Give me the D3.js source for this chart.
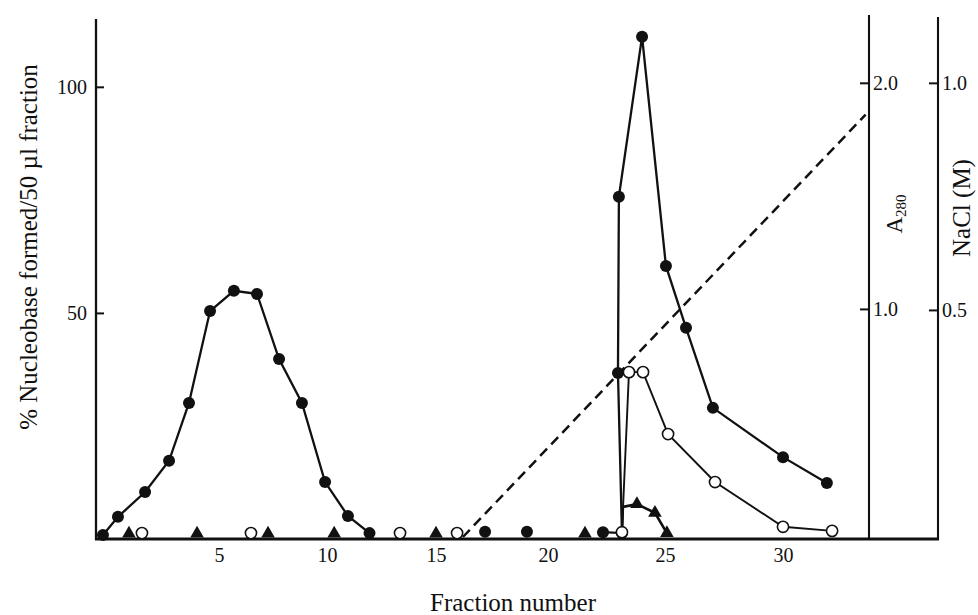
<!DOCTYPE html>
<html>
<head>
<meta charset="utf-8">
<script src="https://cdn.jsdelivr.net/npm/d3@7"></script>
<style>
  body { margin: 0; background: #fff; }
  svg { display: block; }
  text { font-family: "Liberation Serif", "Times New Roman", serif; fill: #111; }
</style>
</head>
<body>
<svg id="chart" width="978" height="615"></svg>
<script>
'use strict';

// tick values
var fractionTicks = [5, 10, 15, 20, 25, 30];
var leftTicks = [50, 100];
var a280Ticks = [1.0, 2.0];
var naclTicks = [0.5, 1.0];

// [fraction, % nucleobase]
var filledPeak1 = [[-0.18, 0.9], [0.49, 4.9], [1.70, 10.4], [2.77, 17.3], [3.66, 30.1], [4.60, 50.4],
  [5.69, 54.9], [6.76, 54.2], [7.78, 39.8], [8.84, 30.1], [9.91, 12.6], [10.96, 5.1], [11.95, 1.3]];
var filledBase = [[17.19, 1.6], [19.06, 1.6]];
var filledPeak2 = [[22.35, 1.5], [23.16, 1.3], [22.99, 36.7], [23.03, 75.7], [24.02, 111.1],
  [25.04, 60.4], [25.89, 46.7], [27.03, 29.0], [30.0, 18.1], [31.86, 12.4]];

var openBase = [[1.56, 1.3], [6.48, 1.3], [13.35, 1.3], [15.94, 1.3]];
var openPeak = [[23.16, 1.5], [23.46, 36.9], [24.06, 36.9], [25.13, 23.2], [27.12, 12.6],
  [30.0, 2.7], [32.08, 1.8]];

var triBase = [[0.98, 1.2], [4.02, 1.2], [7.27, 1.2], [10.33, 1.2], [15.0, 1.2], [21.58, 1.2]];
var triRise = [[23.16, 0.5], [23.2, 7.1]];
var triPeak = [[23.8, 7.7], [24.57, 5.8], [25.08, 1.3]];

// NaCl gradient [fraction, M]
var naclGradient = [[16.2, 0], [33.5, 0.93]];

var svg = d3.select('#chart');
var ink = '#111';

var baseY = 539, leftX = 96, a280X = 869, naclX = 938;

// the printed fraction axis is not quite even, so follow the tick labels
var x = d3.scaleLinear()
  .domain([0, 5, 10, 15, 20, 25, 30, 35])
  .range([107, 219, 327, 436, 548, 665, 783, 901]);
var y = d3.scaleLinear().domain([0, 115]).range([baseY, 19]);
var yA = d3.scaleLinear().domain([0, 2.3]).range([535, 15]);
var yN = d3.scaleLinear().domain([0, 1.145]).range([537, 17]);

// axis lines
svg.append('line')
  .attr('x1', leftX).attr('x2', leftX)
  .attr('y1', y(115)).attr('y2', baseY + 1)
  .attr('stroke', ink).attr('stroke-width', 2.3);
svg.append('line')
  .attr('x1', a280X).attr('x2', a280X)
  .attr('y1', yA(2.3)).attr('y2', baseY + 1)
  .attr('stroke', ink).attr('stroke-width', 2.1);
svg.append('line')
  .attr('x1', naclX).attr('x2', naclX)
  .attr('y1', yN(1.145)).attr('y2', baseY + 1)
  .attr('stroke', ink).attr('stroke-width', 2.1);
svg.append('line')
  .attr('x1', leftX - 1).attr('x2', naclX + 1)
  .attr('y1', baseY).attr('y2', baseY)
  .attr('stroke', ink).attr('stroke-width', 2.8);

function styleAxis(g, size) {
  g.select('.domain').remove();
  g.attr('font-size', size).attr('font-family', null);
  g.selectAll('line').attr('stroke', ink).attr('stroke-width', 2);
  g.selectAll('text').attr('fill', ink);
}

svg.append('g')
  .attr('transform', 'translate(' + leftX + ',0)')
  .call(d3.axisLeft(y).tickValues(leftTicks).tickSize(-8).tickPadding(9))
  .call(styleAxis, 20);

svg.append('g')
  .attr('transform', 'translate(0,' + baseY + ')')
  .call(d3.axisBottom(x).tickValues(fractionTicks).tickSize(0).tickPadding(9))
  .call(styleAxis, 20);

svg.append('g')
  .attr('transform', 'translate(' + a280X + ',0)')
  .call(d3.axisRight(yA).tickValues(a280Ticks).tickFormat(d3.format('.1f')).tickSize(-9).tickPadding(4))
  .call(styleAxis, 20);

svg.append('g')
  .attr('transform', 'translate(' + naclX + ',0)')
  .call(d3.axisRight(yN).tickValues(naclTicks).tickFormat(d3.format('.1f')).tickSize(-9).tickPadding(4))
  .call(styleAxis, 20);

// titles
svg.append('text')
  .attr('transform', 'translate(37,247) rotate(-90)')
  .attr('text-anchor', 'middle')
  .attr('font-size', 25)
  .text('% Nucleobase formed/50 \u00b5l fraction');

svg.append('text')
  .attr('x', 513).attr('y', 611)
  .attr('text-anchor', 'middle')
  .attr('font-size', 25)
  .text('Fraction number');

var a280Label = svg.append('text')
  .attr('transform', 'translate(902,214) rotate(-90)')
  .attr('text-anchor', 'middle')
  .attr('font-size', 23);
a280Label.append('tspan').text('A');
a280Label.append('tspan').attr('font-size', 15).attr('dy', 4).text('280');

svg.append('text')
  .attr('transform', 'translate(970,208) rotate(-90)')
  .attr('text-anchor', 'middle')
  .attr('font-size', 25)
  .text('NaCl (M)');

// NaCl gradient
svg.append('path')
  .datum(naclGradient)
  .attr('d', d3.line().x(function (d) { return x(d[0]); }).y(function (d) { return yN(d[1]); }))
  .attr('fill', 'none')
  .attr('stroke', ink)
  .attr('stroke-width', 2.5)
  .attr('stroke-dasharray', '10,6');

var line = d3.line()
  .x(function (d) { return x(d[0]); })
  .y(function (d) { return y(d[1]); });

[filledPeak1, filledPeak2].forEach(function (seg) {
  svg.append('path').datum(seg).attr('d', line)
    .attr('fill', 'none').attr('stroke', ink).attr('stroke-width', 2.3);
});
svg.append('path').datum(openPeak).attr('d', line)
  .attr('fill', 'none').attr('stroke', ink).attr('stroke-width', 1.9);
svg.append('path').datum(triRise.concat(triPeak)).attr('d', line)
  .attr('fill', 'none').attr('stroke', ink).attr('stroke-width', 2.6);

// markers
svg.selectAll('circle.filled')
  .data(filledPeak1.concat(filledBase, filledPeak2))
  .enter().append('circle')
  .attr('class', 'filled')
  .attr('cx', function (d) { return x(d[0]); })
  .attr('cy', function (d) { return y(d[1]); })
  .attr('r', 6)
  .attr('fill', ink);

svg.selectAll('path.tri')
  .data(triBase.concat(triPeak))
  .enter().append('path')
  .attr('class', 'tri')
  .attr('transform', function (d) { return 'translate(' + x(d[0]) + ',' + y(d[1]) + ')'; })
  .attr('d', d3.symbol().type(d3.symbolTriangle).size(80))
  .attr('fill', ink);

svg.selectAll('circle.open')
  .data(openBase.concat(openPeak))
  .enter().append('circle')
  .attr('class', 'open')
  .attr('cx', function (d) { return x(d[0]); })
  .attr('cy', function (d) { return y(d[1]); })
  .attr('r', 5.6)
  .attr('fill', '#fff')
  .attr('stroke', ink)
  .attr('stroke-width', 1.6);
</script>
</body>
</html>
